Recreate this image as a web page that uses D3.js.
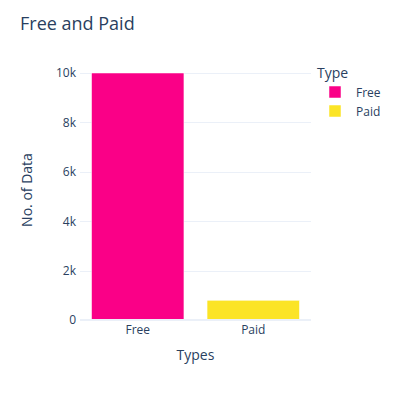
<!DOCTYPE html>
<html><head><meta charset="utf-8">
<script src="https://cdn.jsdelivr.net/npm/d3@7"></script>
<style>body{margin:0;background:#fff}svg{display:block}text{font-family:"Open Sans",verdana,arial,sans-serif;fill:#2a3f5f}</style>
</head><body>
<svg id="c" width="400" height="400"></svg>
<script>
const categories = ["Free", "Paid"];
const values = [10000, 800];
const colors = ["#FA0087", "#FBE426"];
const yTicks = [0, 2000, 4000, 6000, 8000, 10000];
const yTickLabels = ["0", "2k", "4k", "6k", "8k", "10k"];

const svg = d3.select("#c");
const m = {l: 80, r: 89, t: 60, b: 80};
const W = 400, H = 400;
const x = d3.scaleBand().domain(categories).range([m.l, W - m.r]).paddingInner(0.2).paddingOuter(0.1);
const y = d3.scaleLinear().domain([0, d3.max(values) / 0.95]).range([H - m.b, m.t]);

// gridlines
svg.append("g").selectAll("line").data(yTicks.slice(1)).join("line")
  .attr("x1", m.l).attr("x2", W - m.r)
  .attr("y1", d => Math.round(y(d)) + 0.5).attr("y2", d => Math.round(y(d)) + 0.5)
  .attr("stroke", "#EBF0F8").attr("stroke-width", 1);

// bars
svg.append("g").selectAll("rect").data(categories).join("rect")
  .attr("x", d => x(d)).attr("width", x.bandwidth())
  .attr("y", (d, i) => y(values[i])).attr("height", (d, i) => y(0) - y(values[i]))
  .attr("fill", (d, i) => colors[i])
  .attr("stroke", "#fff").attr("stroke-width", 0.5);

// zero line
svg.append("line").attr("x1", m.l).attr("x2", W - m.r)
  .attr("y1", y(0)).attr("y2", y(0)).attr("stroke", "#EBF0F8").attr("stroke-width", 2);

// y axis
const yAxis = d3.axisLeft(y).tickValues(yTicks).tickFormat((d, i) => yTickLabels[i]).tickSize(0).tickPadding(4);
const gy = svg.append("g").attr("transform", `translate(${m.l},0)`).call(yAxis);
gy.select(".domain").remove();
gy.selectAll("text").attr("font-size", 12).style("font-family", '"Open Sans",verdana,arial,sans-serif').attr("fill", "#2a3f5f");

// x axis
const xAxis = d3.axisBottom(x).tickSize(0).tickPadding(5);
const gx = svg.append("g").attr("transform", `translate(0,${H - m.b})`).call(xAxis);
gx.select(".domain").remove();
gx.selectAll("text").attr("font-size", 12).style("font-family", '"Open Sans",verdana,arial,sans-serif').attr("fill", "#2a3f5f");

// titles
svg.append("text").attr("x", 20).attr("y", 30).attr("font-size", 18).text("Free and Paid");
svg.append("text").attr("x", (m.l + W - m.r) / 2).attr("y", 360).attr("text-anchor", "middle").attr("font-size", 14).text("Types");
svg.append("text").attr("transform", `translate(32,${(m.t + H - m.b) / 2}) rotate(-90)`).attr("text-anchor", "middle").attr("font-size", 14).text("No. of Data");

// legend
const lg = svg.append("g");
lg.append("text").attr("x", 317).attr("y", 78).attr("font-size", 14).text("Type");
const items = lg.selectAll("g.item").data(categories).join("g").attr("class", "item")
  .attr("transform", (d, i) => `translate(0,${92 + i * 19})`);
items.append("rect").attr("x", 329).attr("y", -6).attr("width", 12).attr("height", 12)
  .attr("fill", (d, i) => colors[i]).attr("stroke", "#fff").attr("stroke-width", 0.5);
items.append("text").attr("x", 356).attr("y", 4.5).attr("font-size", 12).text(d => d);
</script>
</body></html>
